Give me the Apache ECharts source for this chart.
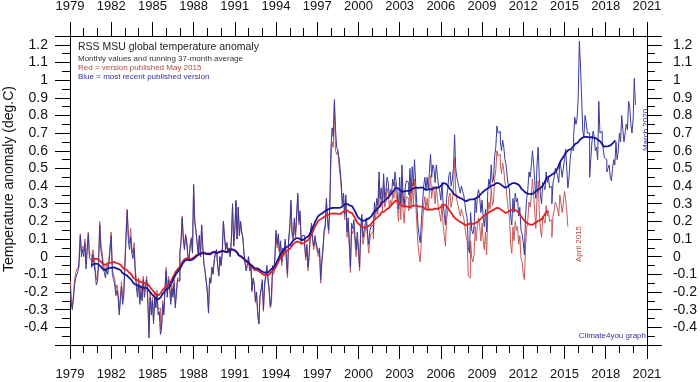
<!DOCTYPE html>
<html><head><meta charset="utf-8">
<script src="https://cdn.jsdelivr.net/npm/echarts@6/dist/echarts.min.js"></script>
<style>html,body{margin:0;padding:0;background:#fff}#c{width:700px;height:382px}</style>
</head><body><div id="c"></div>
<script>
// Monthly RSS MSU values, most recent version (blue), Jan 1979 - Mar 2020
const blueMonthly = [
-0.19,-0.26,-0.3,-0.24,-0.16,-0.12,-0.1,-0.08,-0.02,0.12,0.0,0.04,
0.0,0.08,-0.07,0.03,0.13,-0.01,-0.02,-0.06,0.01,-0.04,-0.09,-0.16,
-0.14,-0.04,0.18,0.04,0.0,-0.07,-0.09,-0.12,-0.07,-0.1,-0.04,0.03,
0.12,-0.1,-0.13,-0.15,-0.22,-0.19,-0.23,-0.33,-0.25,-0.17,-0.27,-0.22,
-0.05,0.11,0.26,0.09,0.04,0.11,0.02,-0.01,0.05,-0.09,-0.17,-0.23,
-0.15,-0.27,-0.2,-0.25,-0.13,-0.23,-0.17,-0.13,-0.27,-0.46,-0.23,-0.33,
-0.25,-0.38,-0.23,-0.29,-0.21,-0.33,-0.31,-0.44,-0.41,-0.27,-0.33,-0.19,
-0.08,-0.23,-0.13,-0.17,-0.27,-0.18,-0.23,-0.15,-0.29,-0.21,-0.13,-0.14,
0.02,0.08,0.22,0.1,0.04,0.12,0.08,0.0,-0.02,0.06,0.1,0.02,
0.41,0.2,0.15,0.08,0.02,0.12,0.0,0.18,0.06,-0.04,-0.08,-0.14,
-0.2,-0.32,-0.12,-0.15,-0.06,-0.1,-0.02,0.02,0.04,-0.05,-0.11,0.0,
-0.05,0.02,0.2,0.11,0.04,0.08,0.02,0.05,0.0,0.1,0.3,0.06,
0.15,0.32,0.1,0.28,0.12,0.2,0.14,0.11,0.02,-0.04,-0.08,-0.04,
0.0,-0.08,-0.04,-0.19,-0.12,-0.15,-0.25,-0.2,-0.32,-0.38,-0.22,-0.18,
-0.13,-0.3,-0.15,-0.1,-0.05,-0.12,-0.18,-0.28,-0.22,-0.05,-0.08,0.0,
0.15,0.07,0.13,0.03,0.09,-0.03,0.05,0.02,0.1,0.0,-0.1,0.1,
0.17,0.32,0.14,0.11,0.22,0.12,0.24,0.36,0.2,0.26,0.09,0.12,
0.12,0.07,0.0,0.07,-0.06,0.02,0.14,0.19,0.1,0.06,0.12,0.08,
0.05,0.02,0.05,-0.13,-0.02,0.05,0.15,0.18,0.33,0.22,0.15,0.3,
0.62,0.73,0.68,0.89,0.72,0.62,0.6,0.56,0.5,0.42,0.3,0.36,
0.24,0.35,0.14,0.22,0.09,-0.06,0.19,0.16,0.21,0.12,0.04,0.14,
0.05,-0.06,0.17,0.24,0.11,0.15,0.19,0.22,0.13,0.07,0.15,0.17,
0.18,0.14,0.31,0.25,0.33,0.29,0.48,0.33,0.39,0.31,0.47,0.33,
0.37,0.45,0.42,0.34,0.38,0.36,0.44,0.4,0.48,0.42,0.35,0.27,
0.45,0.3,0.52,0.35,0.28,0.4,0.43,0.42,0.35,0.5,0.36,0.51,
0.4,0.55,0.42,0.3,0.18,0.12,0.08,0.2,0.3,0.4,0.45,0.38,
0.45,0.38,0.48,0.58,0.45,0.52,0.5,0.42,0.52,0.46,0.4,0.37,
0.32,0.42,0.3,0.24,0.18,0.33,0.38,0.46,0.48,0.4,0.44,0.5,
0.69,0.5,0.45,0.42,0.39,0.36,0.4,0.37,0.35,0.3,0.25,0.22,
0.05,0.02,0.25,0.15,0.13,0.17,0.33,0.25,0.35,0.38,0.33,0.25,
0.32,0.22,0.17,0.27,0.14,0.37,0.44,0.4,0.52,0.42,0.44,0.57,
0.62,0.74,0.7,0.71,0.65,0.6,0.66,0.62,0.55,0.52,0.45,0.4,
0.38,0.23,0.18,0.33,0.25,0.36,0.31,0.33,0.23,0.28,0.15,0.13,
0.08,0.01,0.23,0.33,0.38,0.48,0.45,0.51,0.6,0.53,0.43,0.33,
0.52,0.62,0.45,0.35,0.3,0.42,0.4,0.38,0.48,0.42,0.45,0.39,
0.4,0.3,0.42,0.45,0.5,0.48,0.46,0.42,0.54,0.5,0.45,0.5,
0.55,0.61,0.5,0.39,0.45,0.55,0.61,0.6,0.68,0.79,0.75,0.78,
0.9,1.22,1.08,0.9,0.71,0.68,0.8,0.76,0.7,0.7,0.45,0.55,
0.65,0.71,0.68,0.6,0.62,0.55,0.88,0.7,0.71,0.65,0.6,0.56,
0.55,0.48,0.5,0.52,0.45,0.43,0.5,0.55,0.52,0.65,0.55,0.6,
0.7,0.65,0.8,0.72,0.65,0.7,0.75,0.72,0.88,0.85,0.75,0.7,
0.78,1.01,0.86
];
// Monthly values, version published May 2015 (red), Jan 1979 - Apr 2015
const redMonthly = [
-0.14,-0.24,-0.28,-0.22,-0.13,-0.09,-0.07,-0.06,0.01,0.13,0.03,0.06,
0.03,0.1,-0.04,0.06,0.14,0.02,0.01,-0.03,0.04,-0.01,-0.06,-0.13,
-0.11,-0.01,0.2,0.07,0.03,-0.04,-0.06,-0.09,-0.04,-0.07,-0.01,0.06,
0.14,-0.07,-0.1,-0.12,-0.19,-0.16,-0.2,-0.3,-0.22,-0.14,-0.24,-0.19,
-0.02,0.15,0.27,0.13,0.08,0.16,0.05,0.02,0.08,-0.06,-0.14,-0.2,
-0.12,-0.24,-0.16,-0.22,-0.11,-0.2,-0.15,-0.11,-0.24,-0.42,-0.2,-0.3,
-0.23,-0.36,-0.2,-0.27,-0.19,-0.3,-0.29,-0.41,-0.39,-0.25,-0.31,-0.17,
-0.06,-0.21,-0.11,-0.15,-0.25,-0.16,-0.21,-0.13,-0.27,-0.19,-0.12,-0.13,
0.03,0.09,0.23,0.11,0.05,0.13,0.09,0.01,-0.01,0.07,0.11,0.03,
0.4,0.2,0.15,0.08,0.02,0.12,0.0,0.18,0.06,-0.04,-0.08,-0.14,
-0.19,-0.31,-0.12,-0.14,-0.06,-0.09,-0.02,0.02,0.04,-0.05,-0.1,0.0,
-0.05,0.02,0.2,0.12,0.04,0.08,0.03,0.05,0.0,0.1,0.29,0.06,
0.15,0.31,0.1,0.28,0.12,0.2,0.14,0.11,0.02,-0.04,-0.08,-0.04,
0.0,-0.08,-0.05,-0.2,-0.13,-0.16,-0.26,-0.21,-0.33,-0.38,-0.23,-0.19,
-0.15,-0.31,-0.17,-0.12,-0.07,-0.14,-0.2,-0.29,-0.27,-0.07,-0.1,-0.02,
0.13,0.05,0.11,0.01,0.07,-0.05,0.03,0.0,0.08,-0.02,-0.12,0.08,
0.15,0.3,0.12,0.09,0.2,0.1,0.22,0.34,0.18,0.24,0.07,0.1,
0.1,0.05,-0.02,0.05,-0.08,0.0,0.12,0.17,0.08,0.04,0.1,0.06,
0.03,0.0,0.03,-0.15,-0.04,0.03,0.13,0.16,0.31,0.2,0.13,0.28,
0.55,0.65,0.62,0.86,0.6,0.58,0.6,0.52,0.46,0.38,0.28,0.32,
0.21,0.32,0.11,0.19,0.06,-0.09,0.15,0.13,0.17,0.08,0.0,0.1,
0.02,-0.08,0.13,0.21,0.07,0.11,0.15,0.19,0.09,0.02,0.1,0.13,
0.14,0.1,0.27,0.21,0.29,0.24,0.43,0.28,0.34,0.26,0.42,0.28,
0.31,0.39,0.36,0.28,0.32,0.29,0.37,0.33,0.42,0.35,0.28,0.2,
0.36,0.21,0.43,0.26,0.19,0.31,0.34,0.33,0.26,0.41,0.27,0.42,
0.29,0.44,0.31,0.19,0.07,0.01,-0.03,0.09,0.19,0.29,0.34,0.27,
0.33,0.26,0.36,0.46,0.33,0.4,0.38,0.3,0.4,0.33,0.27,0.24,
0.2,0.3,0.18,0.12,0.06,0.21,0.26,0.34,0.36,0.28,0.32,0.38,
0.56,0.37,0.32,0.29,0.26,0.23,0.27,0.24,0.22,0.17,0.12,0.09,
-0.11,-0.12,0.09,-0.01,-0.03,0.01,0.17,0.09,0.19,0.22,0.17,0.09,
0.19,0.09,0.04,0.14,0.01,0.24,0.31,0.27,0.39,0.29,0.31,0.44,
0.49,0.6,0.57,0.58,0.52,0.47,0.53,0.49,0.42,0.39,0.32,0.27,
0.22,0.07,0.02,0.17,0.09,0.2,0.15,0.17,0.07,0.12,-0.01,-0.03,
-0.1,-0.13,0.06,0.16,0.21,0.31,0.28,0.34,0.44,0.36,0.26,0.16,
0.33,0.43,0.26,0.16,0.11,0.23,0.21,0.19,0.29,0.23,0.26,0.2,
0.21,0.11,0.23,0.26,0.31,0.29,0.27,0.23,0.35,0.3,0.25,0.3,
0.37,0.33,0.26,0.17
];
const startYear = 1979;
const runningWindow = 37;
const xTickYears = [1979,1982,1985,1988,1991,1994,1997,2000,2003,2006,2009,2012,2015,2018,2021];
const yMin = -0.5, yMax = 1.25, yStep = 0.1;
const titleLines = [
  'RSS MSU global temperature anomaly',
  'Monthly values and running 37-month average',
  'Red = version published May 2015',
  'Blue = most recent published version'
];
const yAxisTitle = 'Temperature anomaly (deg.C)';
const blueEndLabel = 'March 2020';
const redEndLabel = 'April 2015';
const creditText = 'Climate4you graph';

// x is years since 1979 so that tick interval 3 starts at min 0
function monthly(vals) { return vals.map((v, i) => [(i + 0.5) / 12, v]); }
function running(vals, w) {
  const h = (w - 1) / 2, out = [];
  for (let i = h; i < vals.length - h; i++) {
    let s = 0;
    for (let j = i - h; j <= i + h; j++) s += vals[j];
    out.push([(i + 0.5) / 12, s / w]);
  }
  return out;
}

const FONT = 'Arial, "Liberation Sans", sans-serif';
const xLast = xTickYears[xTickYears.length - 1] - startYear;
const axisCommonX = {
  type: 'value', min: 0, max: xLast, interval: 3,
  axisLine: { show: true, onZero: false, lineStyle: { color: '#000', width: 1 } },
  axisTick: { show: true, length: 14, lineStyle: { color: '#000' } },
  minorTick: { show: true, splitNumber: 3, length: 8, lineStyle: { color: '#000' } },
  splitLine: { show: false }, minorSplitLine: { show: false },
  axisLabel: { fontSize: 13, color: '#111', fontFamily: FONT,
    formatter: v => String(Math.round(v) + startYear) }
};
const axisCommonY = {
  type: 'value', min: yMin, max: yMax, interval: yStep,
  axisLine: { show: true, onZero: false, lineStyle: { color: '#000', width: 1 } },
  axisTick: { show: true, length: 15, lineStyle: { color: '#000' } },
  minorTick: { show: true, splitNumber: 2, length: 8, lineStyle: { color: '#000' } },
  splitLine: { show: false }, minorSplitLine: { show: false },
  axisLabel: { fontSize: 14, color: '#111', fontFamily: FONT, showMinLabel: false, showMaxLabel: false,
    formatter: v => String(+v.toFixed(1)) }
};

const chart = echarts.init(document.getElementById('c'), null, { renderer: 'canvas' });
chart.setOption({
  animation: false,
  backgroundColor: '#fff',
  grid: { left: 70, top: 35, width: 581, height: 310, containLabel: false },
  xAxis: [
    Object.assign({}, axisCommonX, { position: 'bottom', axisLabel: Object.assign({}, axisCommonX.axisLabel, { margin: 23 }) }),
    Object.assign({}, axisCommonX, { position: 'top', axisLabel: Object.assign({}, axisCommonX.axisLabel, { margin: 23 }) })
  ],
  yAxis: [
    Object.assign({}, axisCommonY, { position: 'left', axisLabel: Object.assign({}, axisCommonY.axisLabel, { margin: 22 }) }),
    Object.assign({}, axisCommonY, { position: 'right', axisLabel: Object.assign({}, axisCommonY.axisLabel, { margin: 26 }) })
  ],
  series: [
    { type: 'line', name: 'red monthly', data: monthly(redMonthly), step: 'middle', symbol: 'none',
      lineStyle: { color: '#c45a5a', width: 1 }, z: 2 },
    { type: 'line', name: 'blue monthly', data: monthly(blueMonthly), step: 'middle', symbol: 'none',
      lineStyle: { color: '#3a3a9c', width: 1 }, z: 3 },
    { type: 'line', name: 'red running', data: running(redMonthly, runningWindow), symbol: 'none',
      lineStyle: { color: '#e02222', width: 1.8 }, z: 4 },
    { type: 'line', name: 'blue running', data: running(blueMonthly, runningWindow), symbol: 'none',
      lineStyle: { color: '#16169a', width: 1.8 }, z: 5 }
  ],
  graphic: [
    { type: 'text', left: 78, top: 42, style: { text: titleLines[0], font: '10.5px ' + FONT, fill: '#222' } },
    { type: 'text', left: 78, top: 55, style: { text: titleLines[1], font: '8px ' + FONT, fill: '#333' } },
    { type: 'text', left: 78, top: 64, style: { text: titleLines[2], font: '8px ' + FONT, fill: '#b04848' } },
    { type: 'text', left: 78, top: 73, style: { text: titleLines[3], font: '8px ' + FONT, fill: '#30309a' } },
    { type: 'text', x: 9, y: 179, rotation: Math.PI / 2,
      style: { text: yAxisTitle, font: '14px ' + FONT, fill: '#111', align: 'center', verticalAlign: 'middle' } },
    { type: 'text', x: 646, y: 130, rotation: Math.PI / 2,
      style: { text: blueEndLabel, font: '8px ' + FONT, fill: '#30309a', align: 'center', verticalAlign: 'middle' } },
    { type: 'text', x: 579, y: 244, rotation: Math.PI / 2,
      style: { text: redEndLabel, font: '8px ' + FONT, fill: '#b04848', align: 'center', verticalAlign: 'middle' } },
    { type: 'text', x: 646, y: 336, style: { text: creditText, font: '8px ' + FONT, fill: '#30309a', align: 'right', verticalAlign: 'middle' } }
  ]
});
</script></body></html>
